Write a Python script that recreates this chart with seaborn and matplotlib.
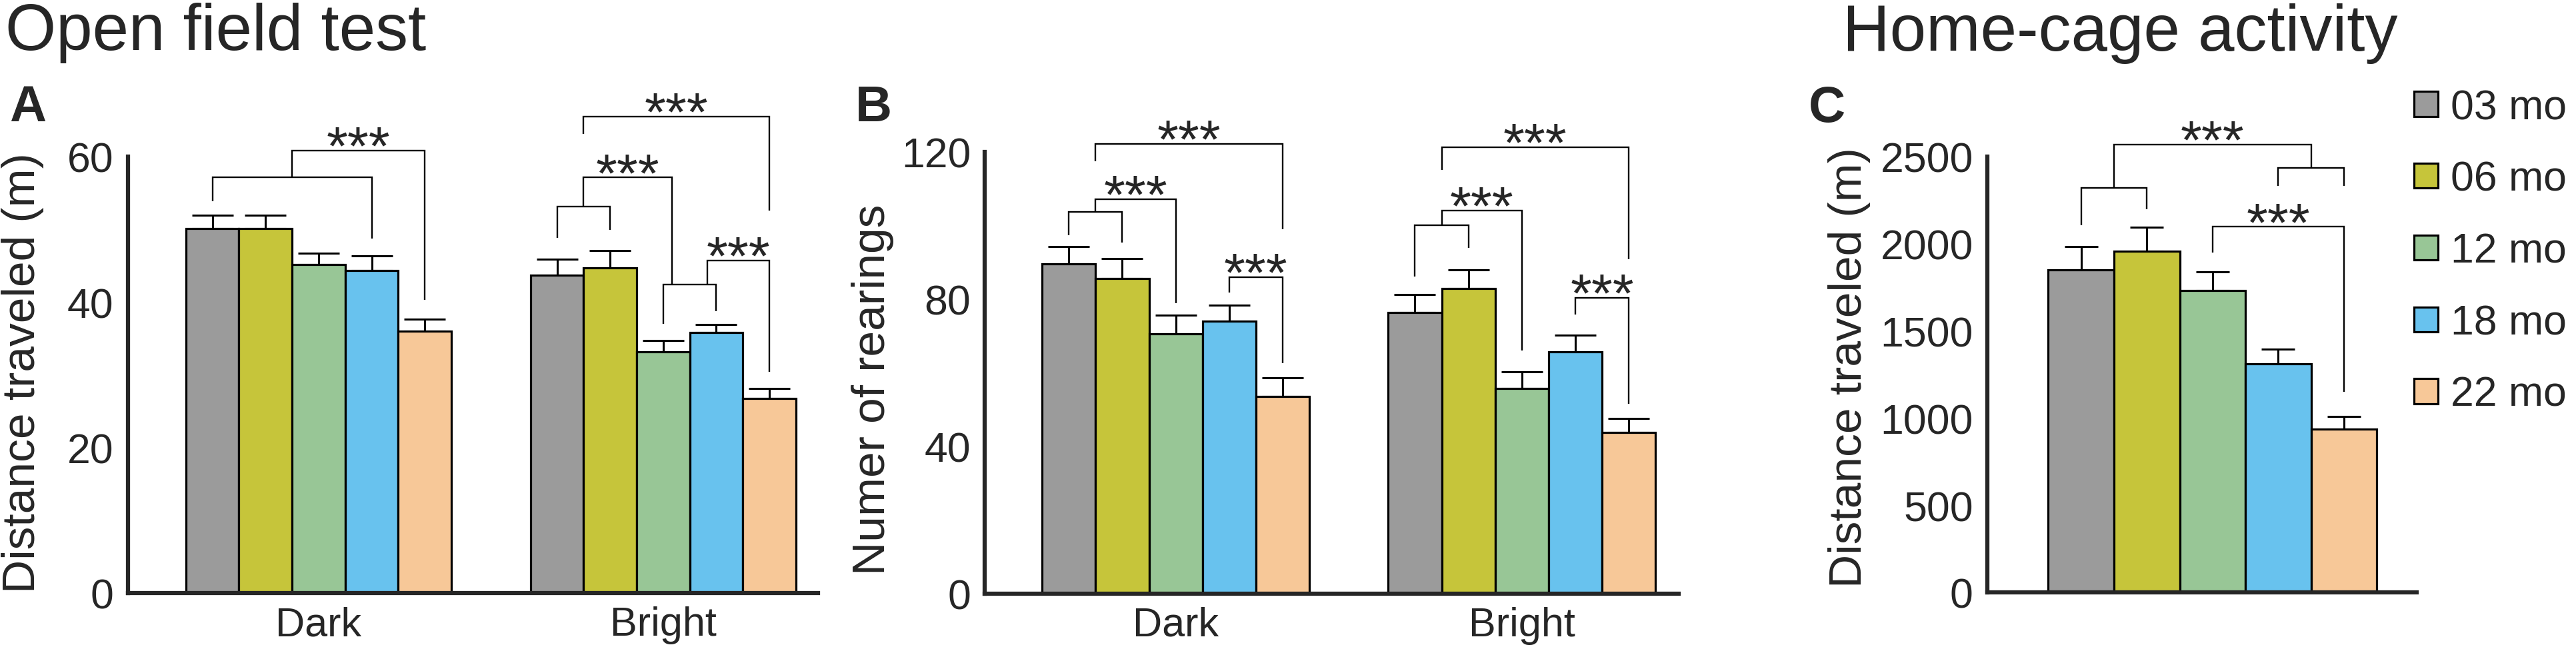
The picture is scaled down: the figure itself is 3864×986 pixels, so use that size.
import matplotlib
matplotlib.use("Agg")
import matplotlib.pyplot as plt
from matplotlib.patches import Patch
import pandas as pd
import seaborn as sns

# values (mean, upper SEM)
ages = ["03 mo", "06 mo", "12 mo", "18 mo", "22 mo"]
conditions = ["Dark", "Bright"]
colors = ["#9B9B9B", "#C6C53A", "#98C696", "#68C2EE", "#F7C898"]

dist_dark = [50.1, 50.1, 45.1, 44.3, 36.0]
dist_dark_sem = [1.8, 1.8, 1.6, 2.0, 1.6]
dist_bright = [43.7, 44.7, 33.1, 35.8, 26.7]
dist_bright_sem = [2.2, 2.4, 1.6, 1.1, 1.4]

rear_dark = [89.5, 85.5, 70.6, 73.9, 53.5]
rear_dark_sem = [4.7, 5.5, 5.0, 4.4, 5.0]
rear_bright = [76.4, 82.8, 55.6, 65.6, 43.8]
rear_bright_sem = [4.8, 5.2, 4.6, 4.6, 3.8]

home = [1851, 1956, 1730, 1311, 935]
home_sem = [131, 139, 107, 84, 74]

# significance brackets: (group, left slot, left foot, right slot, right foot, top, stars)
brackets_a = [
    (0, 0, 53.8, 3, 48.7, 57.1, False),
    (0, 1.5, 57.1, 4, 40.3, 60.8, True),
    (1, 0, 48.8, 1, 49.9, 53.1, False),
    (1, 0.5, 53.1, 2.17, 42.4, 57.1, True),
    (1, 2, 37.0, 3, 38.7, 42.4, False),
    (1, 2.83, 42.4, 4, 30.4, 45.7, True),
    (1, 0.5, 63.1, 4, 52.6, 65.5, True),
]
brackets_b = [
    (0, 0, 97.3, 1, 95.3, 103.6, False),
    (0, 0.5, 103.6, 2, 78.9, 107.1, True),
    (0, 0.5, 117.4, 4, 99.0, 122.1, True),
    (0, 3, 81.7, 4, 62.5, 86.0, True),
    (1, 0, 86.1, 1, 93.8, 100.0, False),
    (1, 0.5, 100.0, 2, 66.0, 104.0, True),
    (1, 0.5, 115.0, 4, 90.9, 121.2, True),
    (1, 3, 75.8, 4, 51.5, 80.3, True),
]
brackets_c = [
    (0, 0, 2105, 1, 2198, 2321, False),
    (0, 3, 2330, 4, 2330, 2432, False),
    (0, 0.5, 2321, 3.5, 2432, 2567, True),
    (0, 2, 1949, 4, 1151, 2096, True),
]

sns.set_style("white")
plt.rcParams["font.family"] = ["Liberation Sans", "DejaVu Sans"]

W, H = 3864, 987
fig = plt.figure(figsize=(W / 100, H / 100), dpi=100)


def px_axes(left, right, y0, ytop):
    return fig.add_axes([left / W, (H - y0) / H, (right - left) / W, (y0 - ytop) / H])


def long_df(groups, means):
    rows = []
    for g, vals in zip(groups, means):
        for a, v in zip(ages, vals):
            rows.append({"cond": g, "age": a, "val": v})
    return pd.DataFrame(rows)


def slot_x(ax, group, slot):
    c0 = ax.containers[0][group]
    c4 = ax.containers[4][group]
    x0 = c0.get_x() + c0.get_width() / 2
    x4 = c4.get_x() + c4.get_width() / 2
    return x0 + slot * (x4 - x0) / 4


def draw_panel(ax, groups, means, sems, width, capsize):
    df = long_df(groups, means)
    sns.barplot(data=df, x="cond", y="val", hue="age", order=groups, hue_order=ages,
                palette=colors, saturation=1, width=width, errorbar=None,
                edgecolor="black", linewidth=2.3, legend=False, ax=ax, zorder=2)
    for h in range(5):
        xs = [slot_x(ax, g, h) for g in range(len(groups))]
        ys = [means[g][h] for g in range(len(groups))]
        es = [sems[g][h] for g in range(len(groups))]
        ax.errorbar(xs, ys, yerr=[[0] * len(es), es], fmt="none", ecolor="black",
                    elinewidth=2.2, capsize=capsize, capthick=2.2, zorder=1)


def draw_brackets(ax, brackets):
    for g, sl, yl, sr, yr, top, stars in brackets:
        xl, xr = slot_x(ax, g, sl), slot_x(ax, g, sr)
        ax.plot([xl, xl, xr, xr], [yl, top, top, yr], color="black", lw=1.7,
                clip_on=False, solid_joinstyle="miter", solid_capstyle="butt", zorder=3)
        if stars:
            ax.annotate("***", xy=((xl + xr) / 2, top), xytext=(0, -14),
                        textcoords="offset points", ha="center", va="baseline",
                        fontsize=59, annotation_clip=False)


def style_axis(ax, ticks, ylim, label, label_xy):
    ax.set_ylim(*ylim)
    ax.set_yticks(ticks)
    ax.set_xlabel("")
    ax.set_ylabel(label, fontsize=50)
    ax.yaxis.set_label_coords(*label_xy)
    for s in ["top", "right"]:
        ax.spines[s].set_visible(False)
    for s in ["left", "bottom"]:
        ax.spines[s].set_linewidth(4.5)
        ax.spines[s].set_zorder(4)
    ax.tick_params(axis="y", direction="in", length=14, width=3.6, pad=15, labelsize=45)
    ax.tick_params(axis="x", length=0, pad=14, labelsize=44)


# A - open field distance
ax_a = px_axes(191.5, 1227, 891, 235.7)
draw_panel(ax_a, conditions, [dist_dark, dist_bright], [dist_dark_sem, dist_bright_sem], 0.77, 22)
ax_a.set_xlim(-0.554, 1.449)
style_axis(ax_a, [0, 20, 40, 60], (0, 60), "Distance traveled (m)", (-0.1212, 0.505))
draw_brackets(ax_a, brackets_a)

# B - rearings
ax_b = px_axes(1477, 2517.5, 891.5, 228.8)
draw_panel(ax_b, conditions, [rear_dark, rear_bright], [rear_dark_sem, rear_bright_sem], 0.772, 22)
ax_b.set_xlim(-0.552, 1.452)
style_axis(ax_b, [0, 40, 80, 120], (0, 120), "Numer of rearings", (-0.1307, 0.4625))
draw_brackets(ax_b, brackets_b)

# C - home cage
ax_c = px_axes(2980.7, 3625, 890, 235.7)
draw_panel(ax_c, ["Home"], [home], [home_sem], 0.8, 18)
ax_c.set_xlim(-0.549, 0.497)
style_axis(ax_c, [0, 500, 1000, 1500, 2000, 2500], (0, 2500), "Distance traveled (m)",
           (-0.2711, 0.5166))
ax_c.set_xticks([])
draw_brackets(ax_c, brackets_c)

# titles and panel letters
fig.text(8 / W, 1 - 75 / H, "Open field test", fontsize=70.5, va="baseline", ha="left")
fig.text(2764 / W, 1 - 75.5 / H, "Home-cage activity", fontsize=70.5, va="baseline", ha="left")
for letter, xl in [("A", 14), ("B", 1283), ("C", 2713)]:
    fig.text(xl / W, 1 - 182.5 / H, letter, fontsize=55, fontweight="bold", va="baseline", ha="left")

handles = [Patch(facecolor=c, edgecolor="black", linewidth=2.3) for c in colors]
fig.legend(handles, ages, loc="upper left", bbox_to_anchor=(3621 / W, 1 - 133 / H),
           frameon=False, fontsize=45, handlelength=0.58, handleheight=0.54,
           handletextpad=0.3, labelspacing=0.78, borderpad=0, borderaxespad=0)

fig.savefig("out.png", dpi=100)
